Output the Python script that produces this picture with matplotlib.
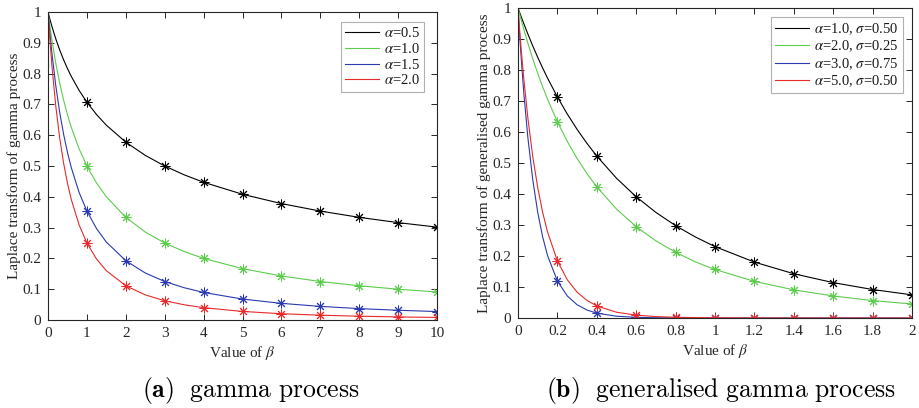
import matplotlib
matplotlib.use("Agg")
import matplotlib.pyplot as plt
import numpy as np

plt.rcParams['font.family'] = ['Liberation Serif', 'DejaVu Serif']
plt.rcParams['mathtext.fontset'] = 'stix'

# ---------------- data: panel (a) gamma process ----------------
beta_a = [0, 0.05, 0.1, 0.2, 0.3, 0.4, 0.5, 0.6, 0.8, 1, 1.25, 1.5, 2, 2.5, 3, 3.5,
          4, 5, 6, 7, 8, 9, 10]
a_alpha05 = [1, 0.9759, 0.9535, 0.9129, 0.8771, 0.8452, 0.8165, 0.7906, 0.7454, 0.7071,
             0.6667, 0.6325, 0.5774, 0.5345, 0.5, 0.4714, 0.4472, 0.4082, 0.3780, 0.3536,
             0.3333, 0.3162, 0.3015]
a_alpha10 = [1, 0.9524, 0.9091, 0.8333, 0.7692, 0.7143, 0.6667, 0.625, 0.5556, 0.5,
             0.4444, 0.4, 0.3333, 0.2857, 0.25, 0.2222, 0.2, 0.1667, 0.1429, 0.125,
             0.1111, 0.1, 0.0909]
a_alpha15 = [1, 0.9294, 0.8668, 0.7607, 0.6747, 0.6037, 0.5443, 0.4941, 0.4141, 0.3536,
             0.2963, 0.2530, 0.1925, 0.1527, 0.125, 0.1048, 0.0894, 0.0680, 0.0540, 0.0442,
             0.0370, 0.0316, 0.0274]
a_alpha20 = [1, 0.9070, 0.8264, 0.6944, 0.5917, 0.5102, 0.4444, 0.3906, 0.3086, 0.25,
             0.1975, 0.16, 0.1111, 0.0816, 0.0625, 0.0494, 0.04, 0.0278, 0.0204, 0.0156,
             0.0123, 0.01, 0.0083]
marks_a = [1, 2, 3, 4, 5, 6, 7, 8, 9, 10]
labels_a = [r'$\alpha$=0.5', r'$\alpha$=1.0', r'$\alpha$=1.5', r'$\alpha$=2.0']
xticks_a = [0, 1, 2, 3, 4, 5, 6, 7, 8, 9, 10]

# ---------------- data: panel (b) generalised gamma process ----------------
beta_b = [0, 0.01, 0.02, 0.03, 0.05, 0.075, 0.1, 0.125, 0.15, 0.2, 0.25, 0.3, 0.35, 0.4,
          0.5, 0.6, 0.7, 0.8, 0.9, 1.0, 1.2, 1.4, 1.6, 1.8, 2.0]
b_a1_s050 = [1, 0.98248, 0.96534, 0.94859, 0.91619, 0.87763, 0.84112, 0.80652, 0.77369,
             0.71298, 0.65811, 0.60843, 0.56333, 0.52230, 0.45084, 0.39097, 0.34057,
             0.29788, 0.26148, 0.23031, 0.18033, 0.14276, 0.11408, 0.09189, 0.07465]
b_a2_s025 = [1, 0.97588, 0.95251, 0.92987, 0.88665, 0.83622, 0.78945, 0.74604, 0.70567,
             0.63305, 0.56984, 0.51450, 0.46590, 0.42304, 0.35141, 0.29455, 0.24890,
             0.21190, 0.18117, 0.15648, 0.11811, 0.09085, 0.07098, 0.05626, 0.04511]
b_a3_s075 = [1, 0.89706, 0.80494, 0.72246, 0.58245, 0.44560, 0.34143, 0.26203, 0.20134,
             0.11942, 0.07119, 0.04268, 0.02571, 0.01556, 0.00577, 0.00218, 0.00083,
             0.00032, 0.00013, 0.00005, 0.0, 0.0, 0.0, 0.0, 0.0]
b_a5_s050 = [1, 0.91540, 0.83831, 0.76805, 0.64553, 0.52066, 0.42099, 0.34123, 0.27722,
             0.18419, 0.12341, 0.08337, 0.05674, 0.03889, 0.01862, 0.00914, 0.00458,
             0.00234, 0.00122, 0.00065, 0.00019, 0.00006, 0.00002, 0.00001, 0.0]
marks_b = [0.2, 0.4, 0.6, 0.8, 1.0, 1.2, 1.4, 1.6, 1.8, 2.0]
labels_b = [r'$\alpha$=1.0, $\sigma$=0.50', r'$\alpha$=2.0, $\sigma$=0.25',
            r'$\alpha$=3.0, $\sigma$=0.75', r'$\alpha$=5.0, $\sigma$=0.50']
xticks_b = [0, 0.2, 0.4, 0.6, 0.8, 1.0, 1.2, 1.4, 1.6, 1.8, 2.0]
xticklabels_b = ['0', '0.2', '0.4', '0.6', '0.8', '1', '1.2', '1.4', '1.6', '1.8', '2']

yticks = [0, 0.1, 0.2, 0.3, 0.4, 0.5, 0.6, 0.7, 0.8, 0.9, 1.0]
yticklabels = ['0', '0.1', '0.2', '0.3', '0.4', '0.5', '0.6', '0.7', '0.8', '0.9', '1']

colors = ['#000000', '#5ccc4c', '#2a3ab0', '#e82a2a']
axis_col = '#262626'
fs = 11

fig = plt.figure(figsize=(9.19, 4.08), dpi=100)
ax1 = fig.add_axes([48/919, 1-320/408, (437-48)/919, (320-12)/408])
ax2 = fig.add_axes([518/919, 1-318/408, (912-518)/919, (318-8)/408])


def draw(ax, x, series, marks, labels):
    x = np.asarray(x)
    handles = []
    for ys, c, lab in zip(series, colors, labels):
        ys = np.asarray(ys)
        h, = ax.plot(x, ys, color=c, lw=0.8, label=lab)
        handles.append(h)
        idx = [int(np.argmin(np.abs(x - m))) for m in marks]
        ax.plot(x[idx], ys[idx], linestyle='none', marker=(8, 2, 0), color=c,
                markersize=7, markeredgewidth=0.7)
    return handles


h1 = draw(ax1, beta_a, [a_alpha05, a_alpha10, a_alpha15, a_alpha20], marks_a, labels_a)
h2 = draw(ax2, beta_b, [b_a1_s050, b_a2_s025, b_a3_s075, b_a5_s050], marks_b, labels_b)

for ax in (ax1, ax2):
    ax.set_ylim(0, 1)
    ax.set_yticks(yticks)
    ax.set_yticklabels(yticklabels)
    ax.tick_params(direction='in', top=True, right=True, length=4, width=0.7,
                   colors=axis_col, labelsize=fs, pad=5)
    for sp in ax.spines.values():
        sp.set_color(axis_col)
        sp.set_linewidth(0.8)
    ax.set_xlabel(r'Value of $\beta$', fontsize=fs, color=axis_col, labelpad=3)

ax1.set_xlim(0, 10)
ax1.set_xticks(xticks_a)
ax1.set_xticklabels([str(t) for t in xticks_a])
ax1.set_ylabel('Laplace transform of gamma process', fontsize=fs, color=axis_col,
               labelpad=1)
ax2.set_xlim(0, 2)
ax2.set_xticks(xticks_b)
ax2.set_xticklabels(xticklabels_b)
ax2.set_ylabel('Laplace transform of generalised gamma process', fontsize=fs,
               color=axis_col, labelpad=1)

leg_kw = dict(loc='upper right', fontsize=10.5, frameon=True, fancybox=False,
              edgecolor='#b0b0b0', framealpha=1, borderaxespad=0, handlelength=2.3,
              handletextpad=0.35, labelspacing=0.12, borderpad=0.3)
l1 = ax1.legend(h1, labels_a, bbox_to_anchor=(0.967, 0.968), **leg_kw)
l2 = ax2.legend(h2, labels_b, bbox_to_anchor=(0.977, 0.971), **leg_kw)
for lg in (l1, l2):
    lg.get_frame().set_linewidth(0.8)
    for t in lg.get_texts():
        t.set_color('#1a1a1a')

fig.text(251/919, 1-391/408, r'$\mathbf{(a)}\ \ \mathrm{gamma\ process}$',
         ha='center', va='center', fontsize=18.5, math_fontfamily='cm')
fig.text(721/919, 1-391/408, r'$\mathbf{(b)}\ \ \mathrm{generalised\ gamma\ process}$',
         ha='center', va='center', fontsize=18.5, math_fontfamily='cm')

fig.savefig('out.png', dpi=100)
